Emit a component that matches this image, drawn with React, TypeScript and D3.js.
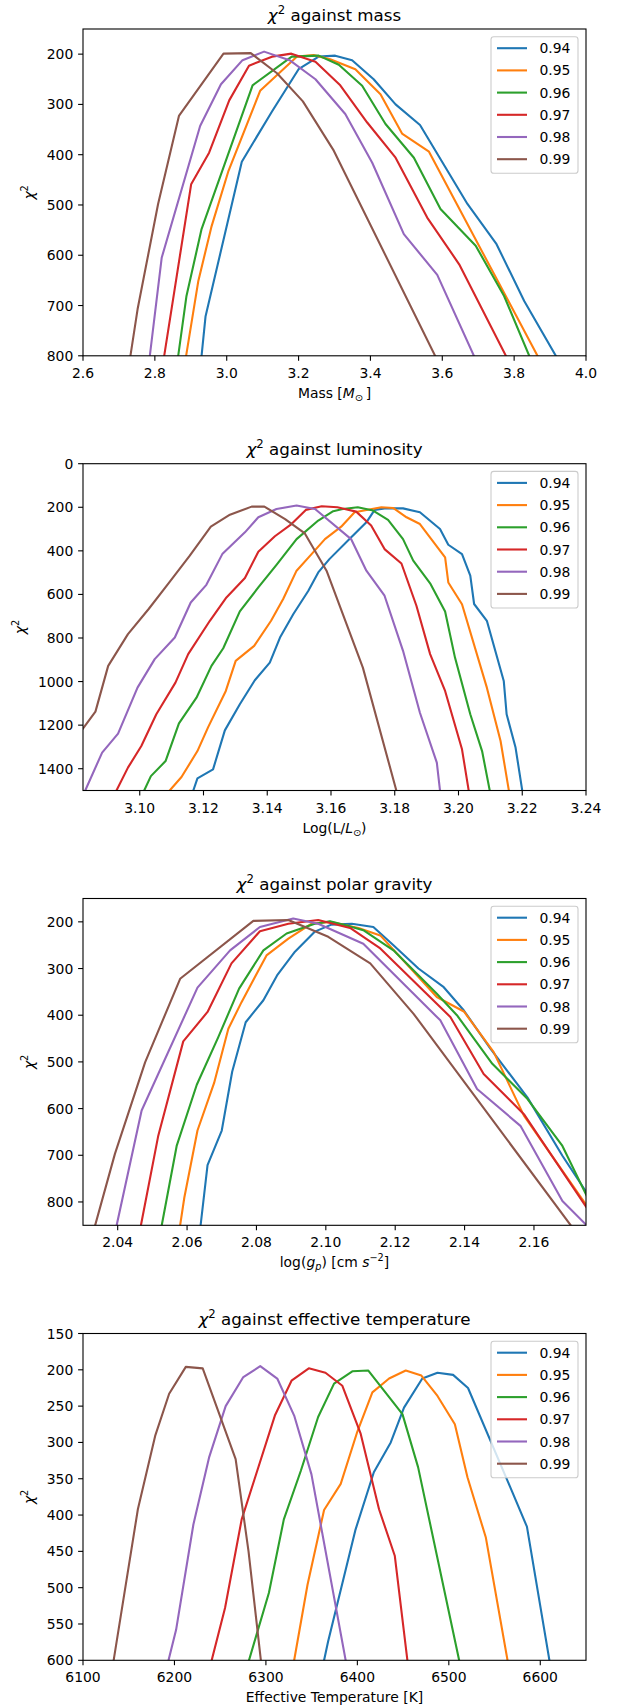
import React from 'react';
import * as d3 from 'd3';

type P = [number, number];

const SERIES_LABELS = ['0.94', '0.95', '0.96', '0.97', '0.98', '0.99'];
const COLORS = ['#1f77b4', '#ff7f0e', '#2ca02c', '#d62728', '#9467bd', '#8c564b'];

// ---------- chi^2 against mass ----------
const mass094: P[] = [[2.930, 800], [2.941, 722], [3.042, 414], [3.126, 314], [3.200, 230], [3.256, 205], [3.302, 203], [3.349, 212], [3.409, 250], [3.470, 300], [3.538, 341], [3.670, 498], [3.751, 578], [3.828, 691], [3.916, 800]];
const mass095: P[] = [[2.887, 800], [2.921, 651], [2.958, 542], [3.005, 432], [3.093, 273], [3.195, 205], [3.242, 202], [3.288, 210], [3.358, 230], [3.428, 280], [3.488, 358], [3.563, 394], [3.865, 800]];
const mass096: P[] = [[2.865, 800], [2.888, 681], [2.930, 548], [3.072, 262], [3.181, 205], [3.256, 203], [3.312, 221], [3.377, 263], [3.442, 339], [3.521, 406], [3.595, 508], [3.693, 581], [3.772, 681], [3.842, 800]];
const mass097: P[] = [[2.826, 800], [2.901, 459], [2.951, 396], [3.007, 292], [3.062, 223], [3.126, 205], [3.180, 199], [3.247, 215], [3.316, 262], [3.391, 336], [3.470, 406], [3.558, 525], [3.647, 618], [3.777, 800]];
const mass098: P[] = [[2.786, 800], [2.819, 605], [2.926, 343], [2.984, 260], [3.044, 212], [3.104, 195], [3.175, 212], [3.247, 250], [3.330, 319], [3.405, 416], [3.493, 558], [3.586, 639], [3.688, 800]];
const mass099: P[] = [[2.732, 800], [2.752, 707], [2.809, 498], [2.867, 323], [2.991, 199], [3.067, 198], [3.140, 238], [3.212, 294], [3.298, 392], [3.580, 800]];

// ---------- chi^2 against luminosity ----------
const lum094: P[] = [[3.1168, 1500], [3.1181, 1444], [3.1230, 1403], [3.1267, 1224], [3.1314, 1104], [3.1361, 994], [3.1408, 913], [3.1440, 798], [3.1482, 690], [3.1529, 583], [3.1560, 499], [3.1595, 438], [3.1658, 346], [3.1711, 269], [3.1737, 212], [3.1768, 205], [3.1826, 205], [3.1879, 223], [3.1942, 300], [3.1968, 372], [3.2011, 415], [3.2037, 514], [3.2049, 644], [3.2089, 721], [3.2142, 997], [3.2151, 1150], [3.2179, 1303], [3.2200, 1500]];
const lum095: P[] = [[3.1094, 1500], [3.1131, 1438], [3.1181, 1319], [3.1215, 1208], [3.1270, 1043], [3.1301, 905], [3.1359, 836], [3.1412, 721], [3.1450, 621], [3.1492, 491], [3.1539, 415], [3.1581, 346], [3.1632, 289], [3.1674, 223], [3.1758, 200], [3.1795, 203], [3.1837, 246], [3.1879, 277], [3.1958, 430], [3.1968, 545], [3.2011, 645], [3.2089, 1028], [3.2132, 1273], [3.2158, 1500]];
const lum096: P[] = [[3.1014, 1500], [3.1035, 1434], [3.1081, 1365], [3.1123, 1192], [3.1178, 1074], [3.1225, 928], [3.1262, 847], [3.1314, 678], [3.1372, 568], [3.1429, 464], [3.1492, 346], [3.1560, 261], [3.1607, 218], [3.1637, 208], [3.1684, 200], [3.1732, 215], [3.1779, 258], [3.1826, 346], [3.1858, 445], [3.1911, 549], [3.1958, 678], [3.1989, 890], [3.2037, 1150], [3.2074, 1319], [3.2098, 1500]];
const lum097: P[] = [[3.0927, 1500], [3.0963, 1395], [3.1005, 1296], [3.1052, 1150], [3.1112, 1005], [3.1152, 874], [3.1220, 721], [3.1272, 614], [3.1330, 525], [3.1372, 404], [3.1424, 333], [3.1476, 277], [3.1521, 212], [3.1571, 195], [3.1620, 200], [3.1679, 220], [3.1726, 284], [3.1768, 392], [3.1821, 458], [3.1868, 652], [3.1911, 874], [3.1958, 1043], [3.2011, 1311], [3.2032, 1500]];
const lum098: P[] = [[3.0829, 1500], [3.0882, 1326], [3.0932, 1239], [3.0993, 1028], [3.1047, 897], [3.1110, 798], [3.1160, 637], [3.1209, 556], [3.1259, 415], [3.1330, 315], [3.1372, 246], [3.1429, 208], [3.1492, 192], [3.1550, 208], [3.1663, 346], [3.1711, 491], [3.1768, 606], [3.1826, 859], [3.1879, 1143], [3.1932, 1372], [3.1942, 1500]];
const lum099: P[] = [[3.0822, 1215], [3.0861, 1138], [3.0901, 928], [3.0963, 782], [3.1028, 667], [3.1089, 552], [3.1157, 422], [3.1223, 289], [3.1283, 234], [3.1351, 197], [3.1391, 197], [3.1456, 254], [3.1518, 320], [3.1586, 491], [3.1700, 936], [3.1805, 1500]];

// ---------- chi^2 against polar gravity ----------
const grav094: P[] = [[2.0639, 850], [2.0659, 721], [2.0700, 647], [2.0730, 521], [2.0769, 415], [2.0820, 368], [2.0861, 313], [2.0911, 264], [2.0968, 221], [2.1016, 206], [2.1075, 204], [2.1137, 211], [2.1195, 250], [2.1267, 300], [2.1340, 340], [2.1398, 390], [2.1475, 472], [2.1581, 576], [2.1682, 701], [2.1752, 780]];
const grav095: P[] = [[2.0580, 850], [2.0592, 791], [2.0630, 647], [2.0678, 545], [2.0719, 429], [2.0757, 372], [2.0829, 272], [2.0892, 236], [2.0959, 204], [2.1012, 200], [2.1094, 213], [2.1157, 229], [2.1320, 361], [2.1398, 392], [2.1484, 479], [2.1571, 615], [2.1752, 808]];
const grav096: P[] = [[2.0527, 850], [2.0570, 680], [2.0628, 549], [2.0690, 447], [2.0750, 343], [2.0820, 261], [2.0887, 225], [2.0968, 204], [2.1012, 199], [2.1055, 207], [2.1108, 218], [2.1195, 261], [2.1320, 354], [2.1378, 400], [2.1480, 504], [2.1581, 579], [2.1682, 680], [2.1752, 787]];
const grav097: P[] = [[2.0467, 850], [2.0517, 658], [2.0589, 456], [2.0659, 393], [2.0728, 289], [2.0810, 220], [2.0892, 204], [2.0978, 196], [2.1070, 213], [2.1157, 257], [2.1359, 404], [2.1455, 526], [2.1571, 612], [2.1752, 812]];
const grav098: P[] = [[2.0397, 850], [2.0469, 604], [2.0630, 341], [2.0724, 261], [2.0810, 211], [2.0906, 193], [2.0978, 204], [2.1108, 247], [2.1330, 411], [2.1436, 558], [2.1561, 637], [2.1682, 798], [2.1749, 848]];
const grav099: P[] = [[2.0335, 850], [2.0392, 697], [2.0479, 501], [2.0580, 322], [2.0791, 198], [2.0892, 196], [2.1007, 232], [2.1128, 289], [2.1253, 397], [2.1706, 850]];

// ---------- chi^2 against effective temperature ----------
const teff094: P[] = [[6363.6, 600], [6368, 574], [6398, 420], [6418, 341], [6436.5, 300], [6451, 252], [6471, 212], [6487.6, 204], [6504.7, 207], [6521, 225], [6569, 367], [6585.4, 416], [6610, 600]];
const teff095: P[] = [[6330.9, 600], [6345.5, 496], [6363.6, 393], [6381.8, 357], [6400, 285], [6416.4, 231], [6434.7, 212], [6452.9, 201], [6470, 208], [6487.6, 236], [6506.6, 275], [6520.4, 348], [6540.5, 431], [6564.2, 600]];
const teff096: P[] = [[6281.5, 600], [6303.3, 507], [6319.6, 406], [6338.2, 339], [6357.1, 265], [6374.5, 219], [6394.5, 202], [6412, 201], [6449.3, 261], [6466.4, 334], [6511.3, 600]];
const teff097: P[] = [[6240.7, 600], [6255.3, 528], [6273.5, 406], [6309.8, 263], [6328, 215], [6346.9, 198], [6365.1, 204], [6383.6, 222], [6403.6, 288], [6423.7, 392], [6440.9, 456], [6454.7, 600]];
const teff098: P[] = [[6193.5, 600], [6201.8, 558], [6220.7, 413], [6237.8, 321], [6256, 250], [6275.3, 210], [6293.8, 195], [6312.4, 212], [6330.9, 263], [6349.8, 344], [6387.2, 600]];
const teff099: P[] = [[6133.5, 600], [6160, 392], [6178.9, 291], [6194.2, 233], [6212.4, 196], [6230.9, 198], [6266.9, 323], [6281, 450], [6294.5, 600]];

// ---------- axes ----------
const massXTicks = [2.6, 2.8, 3.0, 3.2, 3.4, 3.6, 3.8, 4.0];
const massYTicks = [200, 300, 400, 500, 600, 700, 800];
const lumXTicks = [3.10, 3.12, 3.14, 3.16, 3.18, 3.20, 3.22, 3.24];
const lumYTicks = [0, 200, 400, 600, 800, 1000, 1200, 1400];
const gravXTicks = [2.04, 2.06, 2.08, 2.10, 2.12, 2.14, 2.16];
const gravYTicks = [200, 300, 400, 500, 600, 700, 800];
const teffXTicks = [6100, 6200, 6300, 6400, 6500, 6600];
const teffYTicks = [150, 200, 250, 300, 350, 400, 450, 500, 550, 600];

const massXDomain: [number, number] = [2.6, 4.0];
const massYDomain: [number, number] = [150, 800];
const lumXDomain: [number, number] = [3.0822, 3.24];
const lumYDomain: [number, number] = [0, 1500];
const gravXDomain: [number, number] = [2.03, 2.175];
const gravYDomain: [number, number] = [150, 850];
const teffXDomain: [number, number] = [6100, 6650];
const teffYDomain: [number, number] = [150, 600];

// ---------- layout ----------
const W = 628;
const H = 1707;
const L = 83;
const R = 586;
const PH = 326.8;
const TOPS = [29, 463.7, 898.5, 1333.5];
const FONT = '"DejaVu Sans", Verdana, sans-serif';
const FS = 13.9;
const TITLE_FS = 16.7;

const Chi = ({ fs }: { fs: number }) => (
  <>
    <tspan fontStyle="italic">χ</tspan>
    <tspan fontSize={fs * 0.7} dy={-fs * 0.42}>2</tspan>
  </>
);

const Sun = ({ fs }: { fs: number }) => (
  <tspan fontSize={fs * 0.7} dy={fs * 0.22}>⊙</tspan>
);

interface PanelCfg {
  key: string;
  titleText: string;
  xDomain: [number, number];
  yDomain: [number, number];
  xTicks: number[];
  yTicks: number[];
  xFmt: (v: number) => string;
  series: P[][];
  ylabelX: number;
  xlabel: React.ReactNode;
}

const panels: PanelCfg[] = [
  {
    key: 'mass', titleText: ' against mass', xDomain: massXDomain, yDomain: massYDomain,
    xTicks: massXTicks, yTicks: massYTicks, xFmt: d3.format('.1f'),
    series: [mass094, mass095, mass096, mass097, mass098, mass099], ylabelX: 29,
    xlabel: (
      <>
        <tspan>Mass [</tspan>
        <tspan fontStyle="italic">M</tspan>
        <Sun fs={FS} />
        <tspan dy={-FS * 0.22}>{'\u2009]'}</tspan>
      </>
    ),
  },
  {
    key: 'lum', titleText: ' against luminosity', xDomain: lumXDomain, yDomain: lumYDomain,
    xTicks: lumXTicks, yTicks: lumYTicks, xFmt: d3.format('.2f'),
    series: [lum094, lum095, lum096, lum097, lum098, lum099], ylabelX: 20,
    xlabel: (
      <>
        <tspan>Log(L/</tspan>
        <tspan fontStyle="italic">L</tspan>
        <Sun fs={FS} />
        <tspan dy={-FS * 0.22}>)</tspan>
      </>
    ),
  },
  {
    key: 'grav', titleText: ' against polar gravity', xDomain: gravXDomain, yDomain: gravYDomain,
    xTicks: gravXTicks, yTicks: gravYTicks, xFmt: d3.format('.2f'),
    series: [grav094, grav095, grav096, grav097, grav098, grav099], ylabelX: 29,
    xlabel: (
      <>
        <tspan>log(</tspan>
        <tspan fontStyle="italic">g</tspan>
        <tspan fontStyle="italic" fontSize={FS * 0.7} dy={FS * 0.22}>p</tspan>
        <tspan dy={-FS * 0.22}>) [cm </tspan>
        <tspan fontStyle="italic">s</tspan>
        <tspan fontSize={FS * 0.7} dy={-FS * 0.42}>−2</tspan>
        <tspan dy={FS * 0.42}>]</tspan>
      </>
    ),
  },
  {
    key: 'teff', titleText: ' against effective temperature', xDomain: teffXDomain, yDomain: teffYDomain,
    xTicks: teffXTicks, yTicks: teffYTicks, xFmt: d3.format('d'),
    series: [teff094, teff095, teff096, teff097, teff098, teff099], ylabelX: 29,
    xlabel: <tspan>Effective Temperature [K]</tspan>,
  },
];

function Panel({ cfg, top }: { cfg: PanelCfg; top: number }) {
  const bottom = top + PH;
  const x = d3.scaleLinear().domain(cfg.xDomain).range([L, R]);
  const y = d3.scaleLinear().domain(cfg.yDomain).range([top, bottom]);
  const line = d3.line<P>().x((d) => x(d[0])).y((d) => y(d[1]));
  const cx = (L + R) / 2;
  const clipId = `clip-${cfg.key}`;

  const legX0 = R - 95;
  const legY0 = top + 7.7;
  const legW = 87;
  const legH = 136.6;

  return (
    <g>
      <defs>
        <clipPath id={clipId}>
          <rect x={L} y={top} width={R - L} height={PH} />
        </clipPath>
      </defs>
      <text x={cx} y={top - 8.3} fontSize={TITLE_FS} textAnchor="middle" style={{ whiteSpace: 'pre' }}>
        <Chi fs={TITLE_FS} />
        <tspan dy={TITLE_FS * 0.42}>{cfg.titleText}</tspan>
      </text>
      <g clipPath={`url(#${clipId})`}>
        {cfg.series.map((s, i) => (
          <path key={i} d={line(s) || ''} fill="none" stroke={COLORS[i]} strokeWidth={2.1} strokeLinejoin="round" strokeLinecap="square" />
        ))}
      </g>
      {/* x ticks */}
      {cfg.xTicks.map((t) => (
        <g key={`x${t}`}>
          <line x1={x(t)} x2={x(t)} y1={bottom} y2={bottom + 4.9} stroke="#000" strokeWidth={1.1} />
          <text x={x(t)} y={bottom + 22} fontSize={FS} textAnchor="middle">{cfg.xFmt(t)}</text>
        </g>
      ))}
      {/* y ticks */}
      {cfg.yTicks.map((t) => (
        <g key={`y${t}`}>
          <line x1={L - 4.9} x2={L} y1={y(t)} y2={y(t)} stroke="#000" strokeWidth={1.1} />
          <text x={L - 9.7} y={y(t) + 5} fontSize={FS} textAnchor="end">{t}</text>
        </g>
      ))}
      <rect x={L} y={top} width={R - L} height={PH} fill="none" stroke="#000" strokeWidth={1.1} />
      <text x={cx} y={bottom + 42} fontSize={FS} textAnchor="middle" style={{ whiteSpace: 'pre' }}>
        {cfg.xlabel}
      </text>
      <text transform={`translate(${cfg.ylabelX},${(top + bottom) / 2}) rotate(-90)`} fontSize={FS} textAnchor="middle" dy={5}>
        <Chi fs={FS} />
      </text>
      {/* legend */}
      <rect x={legX0} y={legY0} width={legW} height={legH} rx={2.8} ry={2.8} fill="#fff" fillOpacity={0.8} stroke="#cccccc" strokeWidth={1.1} />
      {SERIES_LABELS.map((lab, i) => {
        const ly = legY0 + 11.5 + i * 22.2;
        return (
          <g key={lab}>
            <line x1={legX0 + 6} x2={legX0 + 36} y1={ly} y2={ly} stroke={COLORS[i]} strokeWidth={2.1} />
            <text x={legX0 + 48.5} y={ly + 5} fontSize={FS}>{lab}</text>
          </g>
        );
      })}
    </g>
  );
}

export default function App() {
  return (
    <svg
      width={W}
      height={H}
      viewBox={`0 0 ${W} ${H}`}
      style={{ position: 'absolute', left: 0, top: 0, background: '#fff' }}
      fontFamily={FONT}
      fill="#000"
    >
      <rect x={0} y={0} width={W} height={H} fill="#fff" />
      {panels.map((p, i) => (
        <Panel key={p.key} cfg={p} top={TOPS[i]} />
      ))}
    </svg>
  );
}
